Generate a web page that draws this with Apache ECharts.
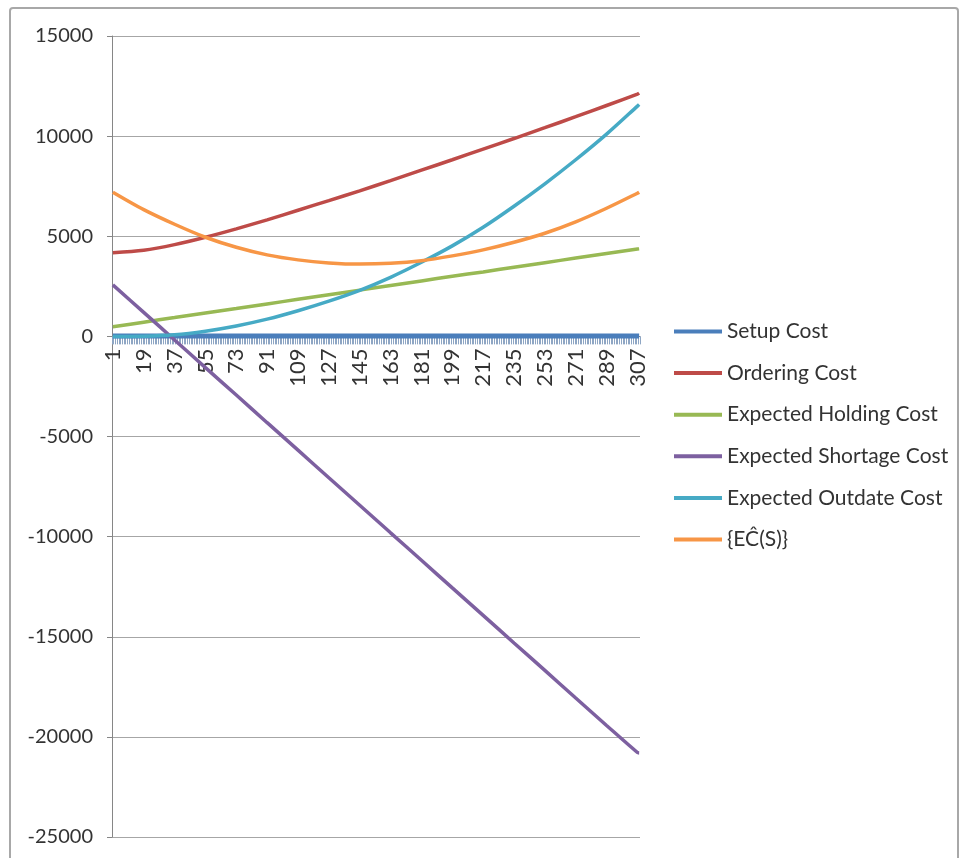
<!DOCTYPE html>
<html>
<head>
<meta charset="utf-8">
<script src="https://cdn.jsdelivr.net/npm/echarts@6/dist/echarts.min.js"></script>
<style>
  html, body { margin: 0; padding: 0; background: #fff; }
  #main { width: 964px; height: 858px; }
</style>
</head>
<body>
<div id="main"></div>
<script>
// category axis runs 1..308 (one step per S value)
const categories = []
for (let i = 1; i <= 308; i++) categories.push(String(i))

// points at the labelled categories
const sampleCats = ['1', '19', '37', '55', '73', '91', '109', '127', '145', '163', '181', '199', '217', '235', '253', '271', '289', '307', '308']

const setupCost = [20, 20, 20, 20, 20, 20, 20, 20, 20, 20, 20, 20, 20, 20, 20, 20, 20, 20, 20]
const orderingCost = [4180, 4300, 4580, 4950, 5370, 5820, 6300, 6780, 7270, 7780, 8300, 8820, 9350, 9880, 10420, 10970, 11530, 12100, 12150]
const holdingCost = [480, 710, 940, 1170, 1390, 1620, 1850, 2080, 2310, 2540, 2770, 3000, 3220, 3450, 3680, 3910, 4140, 4360, 4370]
const shortageCost = [2570, 1200, -180, -1560, -2930, -4310, -5680, -7060, -8430, -9810, -11180, -12560, -13930, -15310, -16680, -18060, -19430, -20780, -20800]
const outdateCost = [0, 10, 80, 260, 520, 860, 1280, 1760, 2300, 2950, 3700, 4520, 5450, 6500, 7620, 8820, 10100, 11500, 11580]
const ecS = [7200, 6330, 5600, 4950, 4450, 4070, 3820, 3670, 3610, 3650, 3780, 4020, 4320, 4700, 5150, 5720, 6400, 7150, 7200]

const yTicks = { min: -25000, max: 15000, step: 5000 }

const seriesDefs = [
  { name: 'Setup Cost', data: setupCost, color: '#4a7ebb', width: 5 },
  { name: 'Ordering Cost', data: orderingCost, color: '#be4b48', width: 3.5 },
  { name: 'Expected Holding Cost', data: holdingCost, color: '#98b954', width: 3.5 },
  { name: 'Expected Shortage Cost', data: shortageCost, color: '#7d60a0', width: 3.5 },
  { name: 'Expected Outdate Cost', data: outdateCost, color: '#46aac5', width: 3.5 },
  { name: '{EĈ(S)}', data: ecS, color: '#f79646', width: 3.5 },
]

const chart = echarts.init(document.getElementById('main'))
const font = 'Lato, "Open Sans", sans-serif'

// plot area in pixels; x axis sits on the zero line
const plotTop = 36
const plotBottom = 837
const zeroY = plotTop + (plotBottom - plotTop) * (yTicks.max / (yTicks.max - yTicks.min))

const option = {
  animation: false,
  textStyle: { fontFamily: font },
  color: seriesDefs.map((s) => s.color),
  graphic: [
    {
      type: 'rect',
      shape: { x: 10, y: 8, width: 948, height: 880, r: 3 },
      style: { fill: 'none', stroke: '#a8a8a8', lineWidth: 2 },
      silent: true,
      z: -1,
    },
  ],
  legend: {
    orient: 'vertical',
    left: 674,
    top: 321,
    padding: 0,
    itemWidth: 48,
    itemHeight: 4,
    itemGap: 20.6,
    icon: 'rect',
    textStyle: { fontSize: 21, color: '#333', fontFamily: font },
    data: seriesDefs.map((s) => s.name),
  },
  grid: {
    left: 112,
    right: 324,
    top: plotTop,
    bottom: 858 - plotBottom,
    containLabel: false,
    outerBoundsMode: 'none',
  },
  xAxis: {
    type: 'category',
    data: categories,
    boundaryGap: true,
    position: 'bottom',
    offset: -(plotBottom - zeroY),
    axisLine: { onZero: false, lineStyle: { color: '#868686', width: 1 } },
    axisTick: {
      show: true,
      interval: 0,
      length: 8,
      lineStyle: { color: '#8ea6c4', width: 1 },
    },
    axisLabel: {
      interval: 17,
      rotate: 90,
      fontSize: 22,
      color: '#333',
      fontFamily: font,
      margin: 12,
    },
    splitLine: { show: false },
  },
  yAxis: {
    type: 'value',
    min: yTicks.min,
    max: yTicks.max,
    interval: yTicks.step,
    axisLine: { show: true, lineStyle: { color: '#868686', width: 1 } },
    axisTick: { show: true, length: 5, lineStyle: { color: '#868686' } },
    axisLabel: {
      fontSize: 20,
      color: '#333',
      fontFamily: font,
      margin: 19,
      formatter: (v) => String(v),
    },
    splitLine: { show: true, lineStyle: { color: '#a6a6a6', width: 1 } },
  },
  series: seriesDefs.map((s) => ({
    name: s.name,
    type: 'line',
    smooth: 0.3,
    symbol: 'none',
    lineStyle: { width: s.width, color: s.color },
    itemStyle: { color: s.color },
    data: sampleCats.map((c, i) => [c, s.data[i]]),
  })),
}

chart.setOption(option)
</script>
</body>
</html>
